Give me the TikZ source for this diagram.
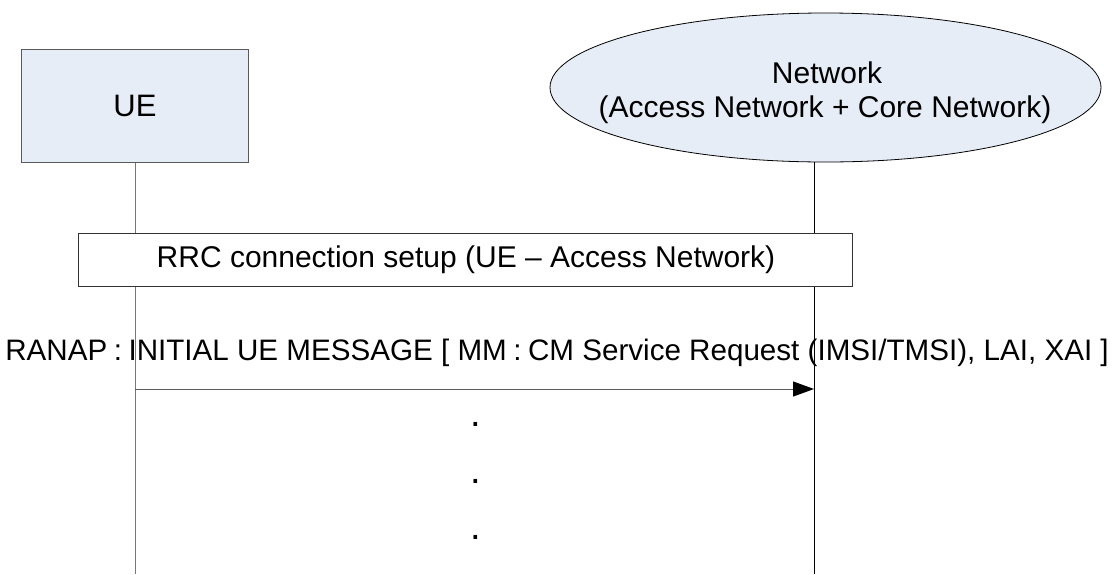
\documentclass[tikz,border=0pt]{standalone}
\usepackage{fontspec}
\setmainfont{Liberation Sans}
\usetikzlibrary{shapes.geometric,arrows.meta}
\definecolor{entityfill}{RGB}{231,237,247}
\definecolor{uelinegray}{RGB}{120,120,120}
\definecolor{msggray}{RGB}{90,90,90}
% spaced colon used in the protocol message label
\newcommand{\pcolon}{\hspace{0.22em}:\hspace{0.22em}}
\tikzset{
  entitybox/.style={draw=msggray,fill=entityfill,line width=1pt,inner sep=0pt},
  entityoval/.style={ellipse,draw=black,fill=entityfill,line width=0.8pt,inner sep=0pt},
  procbox/.style={draw=black!80,fill=white,line width=0.9pt,inner sep=0pt},
  lifeline/.style={line width=1pt},
  msgarrow/.style={draw=msggray,line width=1pt,-{Triangle[length=21pt,width=15pt,fill=black,color=black]}},
  basetext/.style={inner sep=0pt,anchor=base},
  dotmark/.style={inner sep=0pt,anchor=base,font=\fontsize{38}{40}\selectfont},
}
\begin{document}
\begin{tikzpicture}[x=1pt,y=-1pt]
  \useasboundingbox (0,0) rectangle (1116,574);

  % participants
  \node[entitybox,minimum width=226.6pt,minimum height=112.7pt,
        font=\fontsize{31}{36}\selectfont] (ue) at (135,106.3) {UE};
  \node[entityoval,minimum width=551pt,minimum height=149pt] (net) at (825.5,87.5) {};
  \node[basetext,font=\fontsize{30}{34}\selectfont] (nettitle) at (827,83.5) {Network};
  \node[basetext,font=\fontsize{30}{34}\selectfont] (netsub) at (825,117.5)
       {(Access Network + Core Network)};

  % lifelines
  \coordinate (ueend) at (135,574);
  \coordinate (netend) at (814,574);
  \draw[lifeline,draw=uelinegray] (ue.south) -- (ueend);
  \draw[lifeline,draw=black] (netend |- net.south) -- (netend);

  % RRC procedure spanning both lifelines
  \node[procbox,minimum width=774pt,minimum height=53pt] (rrc) at (465,259.5) {};
  \node[basetext,font=\fontsize{30}{34}\selectfont] (rrctext) at (466,267)
       {RRC connection setup (UE – Access Network)};

  % initial message
  \coordinate (msgstart) at (135,389);
  \coordinate (msgend) at (814,389);
  \draw[msgarrow] (msgstart) -- (msgend);
  \node[basetext,font=\fontsize{29.6}{34}\selectfont] (msglabel) at (557,360)
       {RANAP\pcolon INITIAL UE MESSAGE [ MM\pcolon CM Service Request (IMSI/TMSI), LAI, XAI ]};

  % continuation dots
  \node[dotmark] (dot1) at (476,426.5) {.};
  \node[dotmark] (dot2) at (476,483.5) {.};
  \node[dotmark] (dot3) at (476,539.5) {.};
\end{tikzpicture}
\end{document}
